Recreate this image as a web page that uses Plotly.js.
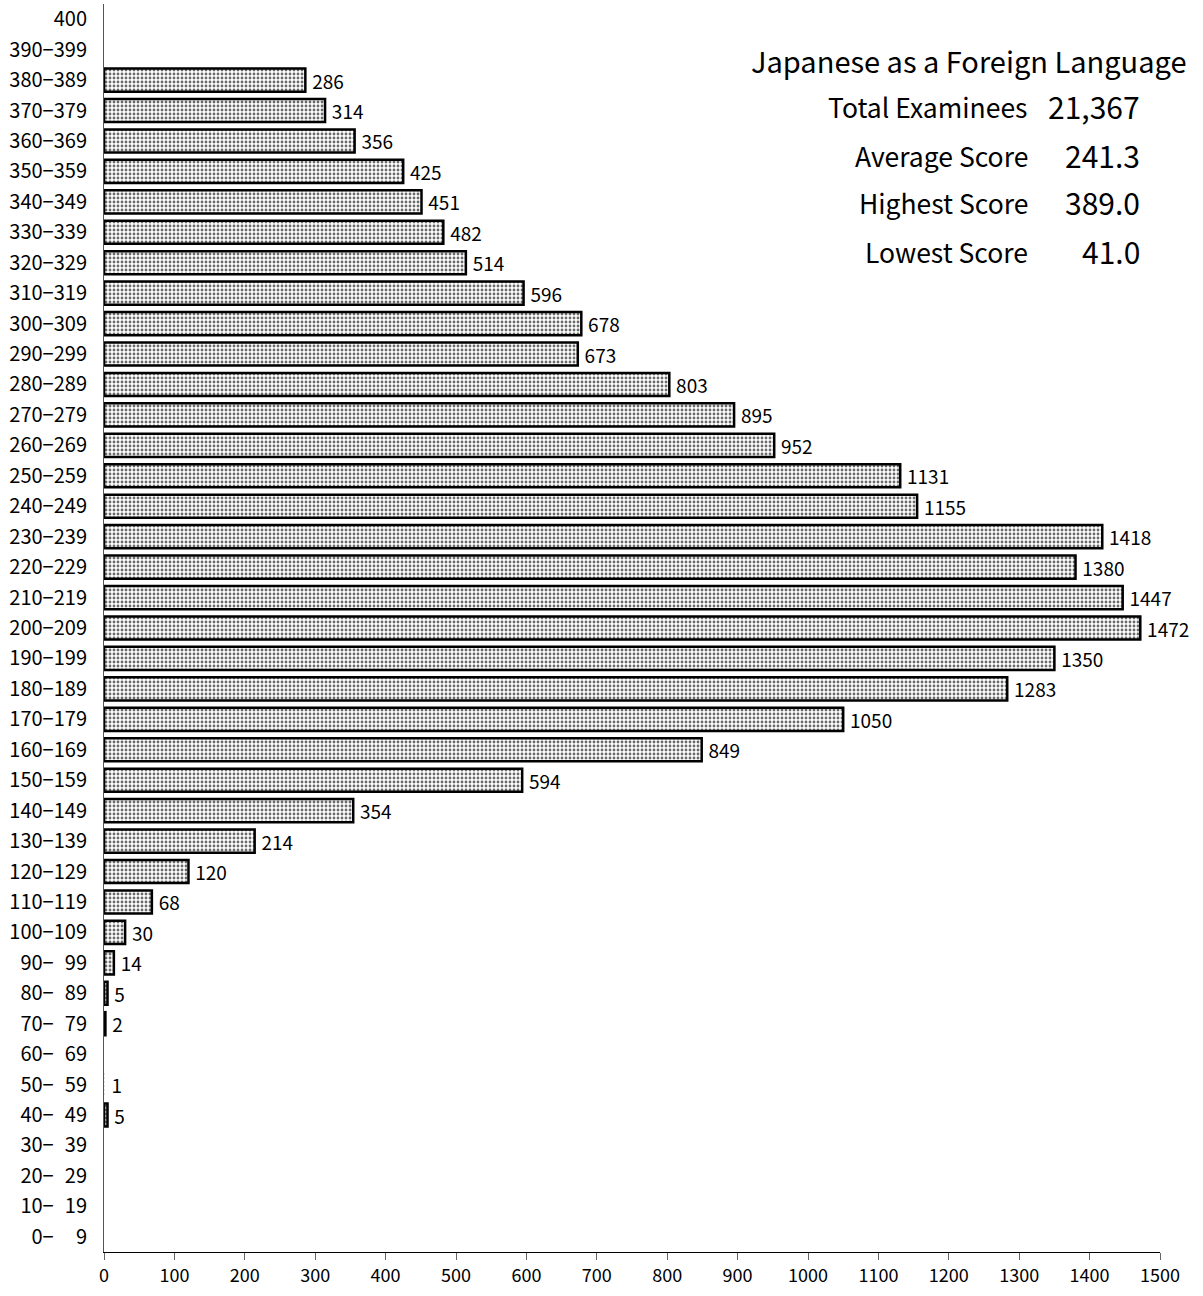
<!DOCTYPE html>
<html>
<head>
<meta charset="utf-8">
<script src="https://cdn.plot.ly/plotly-3.0.1.min.js"></script>
<style>html,body{margin:0;padding:0;background:#fff;}#chart{width:1203px;height:1296px;}</style>
</head>
<body>
<div id="chart"></div>
<script>
// Score bands, bottom to top
const categories = [
  "0−\u2007\u20079", "10−\u200719", "20−\u200729", "30−\u200739", "40−\u200749",
  "50−\u200759", "60−\u200769", "70−\u200779", "80−\u200789", "90−\u200799",
  "100−109", "110−119", "120−129", "130−139", "140−149", "150−159", "160−169",
  "170−179", "180−189", "190−199", "200−209", "210−219", "220−229", "230−239",
  "240−249", "250−259", "260−269", "270−279", "280−289", "290−299", "300−309",
  "310−319", "320−329", "330−339", "340−349", "350−359", "360−369", "370−379",
  "380−389", "390−399", "400"
];
const counts = [
  0, 0, 0, 0, 5, 1, 0, 2, 5, 14,
  30, 68, 120, 214, 354, 594, 849, 1050, 1283, 1350,
  1472, 1447, 1380, 1418, 1155, 1131, 952, 895, 803, 673,
  678, 596, 514, 482, 451, 425, 356, 314, 286, 0, 0
];
const xTicks = [0, 100, 200, 300, 400, 500, 600, 700, 800, 900, 1000, 1100, 1200, 1300, 1400, 1500];
const statTitle = "Japanese as a Foreign Language";
const statLabels = ["Total Examinees", "Average Score", "Highest Score", "Lowest Score"];
const statValues = ["21,367", "241.3", "389.0", "41.0"];

const labels = counts.map(v => v > 0 ? String(v) : "");
const FONT = "Noto Sans CJK JP, Noto Sans, sans-serif";

const trace = {
  type: "bar",
  orientation: "h",
  y: categories,
  x: counts,
  text: labels,
  texttemplate: "\u2009%{text}",
  textposition: "outside",
  constraintext: "none",
  cliponaxis: false,
  textfont: {family: FONT, size: 19, color: "#000"},
  marker: {
    color: "#ffffff",
    line: {color: "#000", width: counts.map(v => v > 1 ? 2.5 : 0)},
    pattern: {shape: ".", fgcolor: "#6a6a6a", bgcolor: "#ffffff", size: 4, solidity: 0.4}
  },
  hoverinfo: "none"
};

const annotations = [{
  xref: "paper", yref: "paper", x: 1.027, y: 0.955, xanchor: "right", yanchor: "middle",
  text: statTitle, showarrow: false, font: {family: FONT, size: 29, color: "#000"}
}];
const rowY = [0.918, 0.879, 0.841, 0.802];
statLabels.forEach((s, i) => {
  annotations.push({
    xref: "paper", yref: "paper", x: 0.877, y: rowY[i], xanchor: "right", yanchor: "middle",
    text: s, showarrow: false, font: {family: FONT, size: 26.5, color: "#000"}
  });
  annotations.push({
    xref: "paper", yref: "paper", x: 0.983, y: rowY[i], xanchor: "right", yanchor: "middle",
    text: statValues[i], showarrow: false, font: {family: FONT, size: 30, color: "#000"}
  });
});

const layout = {
  width: 1203, height: 1296,
  margin: {l: 104, r: 43, t: 4, b: 44},
  paper_bgcolor: "#fff", plot_bgcolor: "#fff",
  showlegend: false,
  bargap: 0.24,
  font: {family: FONT, size: 18, color: "#000"},
  xaxis: {
    range: [0, 1500], tickmode: "array", tickvals: xTicks, ticktext: xTicks.map(String),
    showgrid: false, zeroline: false, showline: true, linecolor: "#000", linewidth: 1,
    ticks: "outside", ticklen: 7, tickcolor: "#666", tickfont: {family: FONT, size: 18}
  },
  yaxis: {
    type: "category", categoryorder: "array", categoryarray: categories,
    range: [-0.5, categories.length - 0.5],
    showgrid: false, zeroline: false, showline: true, linecolor: "#555", linewidth: 1,
    ticks: "", ticklabelstandoff: 12, tickfont: {family: FONT, size: 20}
  },
  annotations: annotations
};

Plotly.newPlot("chart", [trace], layout, {displayModeBar: false, staticPlot: true});
</script>
</body>
</html>
